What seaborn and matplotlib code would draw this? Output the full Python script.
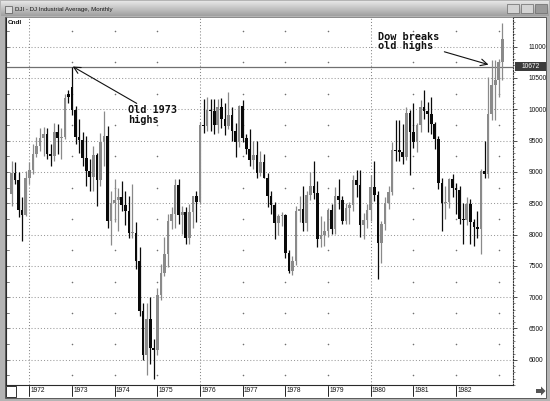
import matplotlib
matplotlib.use("Agg")

import numpy as np
import matplotlib.pyplot as plt
import matplotlib.transforms as mtransforms
from matplotlib.colors import LinearSegmentedColormap
from matplotlib.patches import Rectangle, Polygon
import seaborn as sns

sns.set_theme(style="white")
plt.rcParams["font.family"] = ["Liberation Sans", "DejaVu Sans"]

# monthly candles, Aug 1971 .. Feb 1983 (x = months after Jan 1972)
months = list(range(-5, 134))
opens = [
    8650, 8981, 8872, 8390, 8313,
    8902, 9022, 9281, 9407, 9542, 9607, 9290, 9247, 9637, 9533, 9555, 10240,
    10350, 9990, 9551, 9510, 9214, 9014, 8917, 9264, 8876, 9471, 9566, 8223,
    8509, 8556, 8605, 8467, 8368, 8022, 8024, 7574, 6786, 6079, 6655, 6187,
    6162, 7037, 7391, 7682, 8213, 8323, 8790, 8315, 8353, 7939, 8360, 8607,
    8524, 9753, 9726, 9995, 9969, 9752, 10028, 9846, 9737, 9902, 9649, 9472,
    10047, 9544, 9364, 9191, 9269, 8987, 9163, 8901, 8615, 8471, 8184, 8297,
    8312, 7699, 7421, 7574, 8373, 8406, 8190, 8623, 8768, 8658, 7925, 7990,
    8050, 8392, 8088, 8622, 8549, 8223, 8420, 8464, 8876, 8786, 8157, 8224,
    8387, 8759, 8631, 7858, 8171, 8509, 8679, 9353, 9326, 9324, 9245, 9933,
    9640, 9473, 9746, 10039, 9978, 9918, 9769, 9523, 8815, 8500, 8526, 8890,
    8750, 8711, 8244, 8228, 8484, 8195, 8119, 8086, 9013, 8963, 9917, 10393,
    10465, 10757,
]
highs = [
    9180, 9150, 9000, 8600, 9020,
    9150, 9450, 9550, 9700, 9710, 9700, 9450, 9780, 9760, 9700, 10250, 10300,
    10672, 10050, 9850, 9640, 9580, 9200, 9420, 9300, 9620, 9970, 9740, 8700,
    8890, 8750, 8850, 8690, 8620, 8800, 8200, 7800, 6900, 6900, 7000, 6330,
    7150, 7530, 7960, 8330, 8440, 8890, 8890, 8450, 8440, 8480, 8620, 8700,
    9790, 10160, 10190, 10170, 10160, 10160, 10180, 10100, 10270, 10030, 9780, 10070,
    10140, 9610, 9680, 9500, 9500, 9340, 9290, 8980, 8700, 8520, 8330, 8360,
    8330, 7750, 7660, 8460, 8620, 8780, 8700, 8990, 9180, 8850, 8300, 8220,
    8430, 8480, 8760, 8880, 8620, 8500, 8520, 8950, 9030, 9030, 8350, 8480,
    8950, 9180, 8700, 8210, 8600, 8770, 9470, 9820, 9820, 9760, 10030, 9980,
    10100, 9780, 10150, 10300, 10110, 10200, 9800, 9580, 8900, 8780, 8910, 8960,
    8830, 8780, 8500, 8600, 8560, 8250, 8380, 9040, 9500, 10510, 10780, 10780,
    10800, 11380,
]
lows = [
    8450, 8800, 8280, 7900, 8300,
    8800, 8960, 9230, 9330, 9250, 9200, 9100, 9170, 9290, 9210, 9520, 10100,
    9900, 9440, 9300, 9100, 8780, 8700, 8700, 8460, 8780, 9100, 8100, 7830,
    8200, 8050, 8380, 8150, 7950, 7950, 7450, 6700, 6000, 5750, 5940, 5700,
    6080, 6950, 7340, 7480, 8090, 8100, 8170, 8010, 7850, 7850, 8110, 8200,
    8480, 9620, 9660, 9650, 9600, 9620, 9700, 9590, 9680, 9500, 9240, 9400,
    9470, 9280, 9090, 9040, 8900, 8940, 8900, 8440, 8320, 7930, 8000, 8130,
    7620, 7390, 7360, 7510, 8200, 8060, 8050, 8550, 8560, 7800, 7800, 7820,
    7960, 8010, 8010, 8400, 8170, 8170, 8160, 8380, 8600, 7960, 7930, 8100,
    8220, 8530, 7290, 7550, 8080, 8410, 8630, 9180, 9180, 9120, 9190, 8950,
    9380, 9310, 9630, 9850, 9630, 9600, 9360, 8730, 8060, 8240, 8420, 8600,
    8320, 8160, 7850, 8150, 7850, 7820, 7940, 7690, 8900, 8900, 9820, 9820,
    10200, 10460,
]
closes = [
    8981, 8872, 8390, 8313, 8902,
    9022, 9281, 9407, 9542, 9607, 9290, 9247, 9637, 9533, 9555, 10182, 10200,
    9990, 9551, 9510, 9214, 9014, 8917, 9264, 8876, 9471, 9566, 8223, 8509,
    8556, 8605, 8467, 8368, 8022, 8024, 7574, 6786, 6079, 6655, 6187, 6162,
    7037, 7391, 7682, 8213, 8323, 8790, 8315, 8353, 7939, 8360, 8607, 8524,
    9753, 9726, 9995, 9969, 9752, 10028, 9846, 9737, 9902, 9649, 9472, 10047,
    9544, 9364, 9191, 9269, 8987, 9163, 8901, 8615, 8471, 8184, 8297, 8312,
    7699, 7421, 7574, 8373, 8406, 8190, 8623, 8768, 8658, 7925, 7990, 8050,
    8392, 8088, 8622, 8549, 8223, 8420, 8464, 8876, 8786, 8157, 8224, 8387,
    8759, 8631, 7858, 8171, 8509, 8679, 9353, 9326, 9324, 9245, 9933, 9640,
    9473, 9746, 10039, 9978, 9918, 9769, 9523, 8815, 8500, 8526, 8890, 8750,
    8711, 8244, 8228, 8484, 8195, 8119, 8086, 9013, 8963, 9917, 10393, 10465,
    10757, 11126,
]
years = list(range(1972, 1983))
price_labels = [6000, 6500, 7000, 7500, 8000, 8500, 9000, 9500, 10000, 10500, 11000]
old_high = 10672

W, H = 550, 401
fig = plt.figure(figsize=(W / 100, H / 100), dpi=100)
fig.patch.set_facecolor("#b4b4b4")

# window chrome drawn in pixel coordinates
bg = fig.add_axes([0, 0, 1, 1])
bg.axis("off")
grad = LinearSegmentedColormap.from_list("bar", ["#e6e6e6", "#a0a0a0"])
bg.imshow(np.linspace(0, 1, 32)[:, None], cmap=grad, aspect="auto",
          extent=(1, 549, 16, 1), zorder=0)
bg.add_patch(Rectangle((5, 17), 541, 381, facecolor="white", edgecolor="#5a5a5a", lw=0.7))
bg.add_patch(Rectangle((5, 6), 7, 7, facecolor="#dcdcdc", edgecolor="#555555", lw=0.5))
bg.text(15, 9, "DJI - DJ Industrial Average, Monthly", fontsize=4.4, color="#1a1a1a",
        va="center", ha="left")
for bx, fc in [(507, "#d4d4d4"), (521, "#d4d4d4"), (535, "#9a9a9a")]:
    bg.add_patch(Rectangle((bx, 4), 12, 9, facecolor=fc, edgecolor="#6a6a6a", lw=0.5))
bg.add_patch(Rectangle((6, 386), 10, 11, facecolor="white", edgecolor="#333333", lw=0.7))
bg.add_patch(Polygon([(536, 389), (541, 389), (541, 386.5), (545.5, 391),
                      (541, 395.5), (541, 393), (536, 393)],
                     closed=True, facecolor="#555555", edgecolor="none"))
bg.add_patch(Rectangle((515, 61.5), 31, 9, facecolor="#3c3c3c", edgecolor="none"))
bg.text(530.5, 66.2, str(old_high), fontsize=4.8, color="white", ha="center", va="center")
bg.set_xlim(0, W)
bg.set_ylim(H, 0)

ax = fig.add_axes([6 / W, (H - 385) / H, 507 / W, 368 / H])
ax.set_facecolor("white")
x_lo, x_hi = -6.55, 136.0
ax.set_xlim(x_lo, x_hi)
ax.set_ylim(5598, 11472)

# dotted grid
ax.hlines(price_labels, x_lo, x_hi, colors="#9a9a9a", linestyles=(0, (1, 2.0)), lw=0.75, zorder=1)
ax.vlines([0, 48, 96], 5598, 11472, colors="#858585", linestyles=(0, (1, 2.0)), lw=0.75, zorder=1)
dot_x, dot_y = [], []
for i, yr in enumerate(years + [1983]):
    if yr in (1972, 1976, 1980):
        continue
    for lv in range(5750, 11500, 500):
        dot_x.append(12 * i)
        dot_y.append(lv)
sns.scatterplot(x=dot_x, y=dot_y, s=1.3, color="#707070", linewidth=0, legend=False,
                ax=ax, zorder=1)

ax.axhline(old_high, color="#707070", lw=0.9, zorder=2)

# candles
up_col, dn_col = "#8a8a8a", "#0a0a0a"
cols = [up_col if c >= o else dn_col for o, c in zip(opens, closes)]
ax.vlines(months, lows, highs, colors=cols, lw=0.9, zorder=3)
bottoms = [min(o, c) for o, c in zip(opens, closes)]
heights = [max(abs(c - o), 20) for o, c in zip(opens, closes)]
ax.bar(months, heights, bottom=bottoms, width=0.74, color=cols, linewidth=0, zorder=4)

# axes frame and ticks
for side in ["left", "bottom"]:
    ax.spines[side].set_color("#2a2a2a")
    ax.spines[side].set_linewidth(0.8)
ax.spines["top"].set_color("#777777")
ax.spines["top"].set_linewidth(0.6)
ax.spines["right"].set_color("#333333")
ax.spines["right"].set_linewidth(0.8)
ax.spines["right"].set_linestyle((0, (1, 1.5)))

ax.set_xticks([])
ax.yaxis.tick_right()
ax.set_yticks(price_labels)
ax.set_yticklabels([str(v) for v in price_labels])
ax.set_yticks(range(5600, 11500, 100), minor=True)
ax.tick_params(axis="y", which="major", direction="out", length=3, width=0.6,
               colors="#333333", labelsize=4.8, labelcolor="#111111", pad=8)
ax.tick_params(axis="y", which="minor", direction="out", length=1.5, width=0.5,
               colors="#555555")

yax = mtransforms.blended_transform_factory(ax.transAxes, ax.transData)
for lv in range(5750, 11500, 250):
    ax.plot([0, 0.006], [lv, lv], transform=yax, color="#444444", lw=0.5, clip_on=False)

xax = mtransforms.blended_transform_factory(ax.transData, ax.transAxes)
for i, yr in enumerate(years):
    xm = 12 * i
    ax.plot([xm, xm], [-0.003, -0.030], transform=xax, color="#222222", lw=0.7, clip_on=False)
    ax.text(xm + 0.35, -0.016, str(yr), transform=xax, fontsize=4.8, color="#111111",
            ha="left", va="center")

ax.text(0.004, 0.992, "Cndl", transform=ax.transAxes, fontsize=4.6, fontweight="bold",
        ha="left", va="top", color="#111111")

# annotations
mono = {"family": "DejaVu Sans Mono", "weight": "bold", "size": 7.4}
ax.text(27.8, 10060, "Old 1973\nhighs", fontdict=mono, ha="left", va="top", linespacing=0.95,
        color="#111111", zorder=6)
ax.annotate("", xy=(12.2, old_high + 10), xytext=(30.2, 10093),
            arrowprops=dict(arrowstyle="->", lw=0.8, color="#111111", shrinkA=0, shrinkB=0))
ax.text(98.1, 11235, "Dow breaks\nold highs", fontdict=mono, ha="left", va="top", linespacing=0.95,
        color="#111111", zorder=6)
ax.annotate("", xy=(129.1, old_high + 40), xytext=(116.7, 10917),
            arrowprops=dict(arrowstyle="->", lw=0.8, color="#111111", shrinkA=0, shrinkB=0))

fig.savefig("out.png", dpi=100, facecolor=fig.get_facecolor())
plt.close(fig)
